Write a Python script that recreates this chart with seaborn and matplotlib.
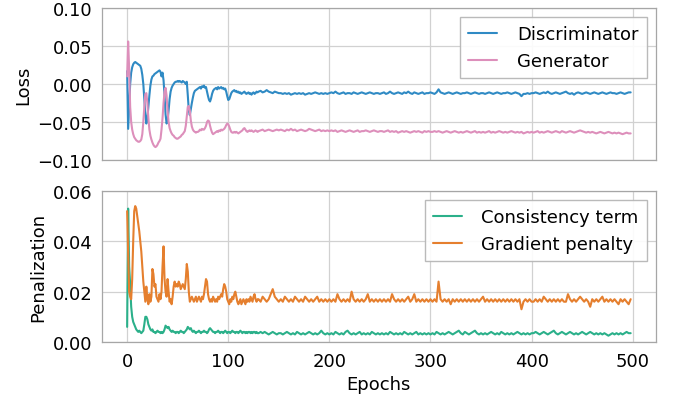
import numpy as np
import pandas as pd
import matplotlib
matplotlib.use("Agg")
import matplotlib.pyplot as plt
import seaborn as sns

# ---------------- data ----------------
epochs_head = list(range(0, 130))          # every epoch for 0..129
epochs_tail = list(range(130, 500, 2))     # every 2nd epoch for 130..498

disc_head = [0.017, -0.059, -0.030, 0.000, 0.015, 0.022, 0.026, 0.028, 0.029, 0.028,
             0.027, 0.026, 0.025, 0.024, 0.020, 0.012, 0.000, -0.020, -0.040, -0.052,
             -0.045, -0.030, -0.015, -0.002, 0.006, 0.010, 0.011, 0.013, 0.014, 0.015,
             0.016, 0.017, 0.018, 0.016, 0.010, 0.015, 0.005, -0.015, -0.040, -0.052,
             -0.048, -0.035, -0.020, -0.010, -0.005, -0.002, 0.000, 0.002, 0.003, 0.003,
             0.004, 0.003, 0.004, 0.003, 0.002, 0.004, 0.003, 0.002, 0.000, 0.003,
             -0.015, -0.035, -0.041, -0.033, -0.025, -0.018, -0.012, -0.009, -0.008, -0.007,
             -0.006, -0.005, -0.004, -0.006, -0.003, -0.004, -0.002, -0.005, -0.004, -0.010,
             -0.016, -0.021, -0.023, -0.019, -0.013, -0.009, -0.007, -0.006, -0.005, -0.007,
             -0.004, -0.006, -0.005, -0.004, -0.006, -0.005, -0.007, -0.006, -0.010, -0.016,
             -0.021, -0.020, -0.016, -0.012, -0.010, -0.009, -0.008, -0.010, -0.009, -0.011,
             -0.010, -0.012, -0.011, -0.013, -0.012, -0.011, -0.010, -0.012, -0.013, -0.012,
             -0.011, -0.013, -0.012, -0.014, -0.012, -0.011, -0.013, -0.012, -0.010, -0.011]
disc_tail = [-0.010, -0.009, -0.011, -0.010, -0.008, -0.010, -0.011, -0.012, -0.010, -0.011, -0.012,
             -0.012, -0.013, -0.012, -0.013, -0.012, -0.014, -0.013, -0.012, -0.013, -0.012,
             -0.013, -0.012, -0.014, -0.013, -0.012, -0.013, -0.012, -0.011, -0.012, -0.013,
             -0.012, -0.013, -0.012, -0.013, -0.012,
             -0.011, -0.012, -0.010, -0.012, -0.013, -0.012, -0.011, -0.013, -0.012, -0.012,
             -0.013, -0.011, -0.012, -0.013, -0.012, -0.011, -0.012, -0.013, -0.012, -0.011,
             -0.012, -0.013, -0.012, -0.012, -0.013,
             -0.012, -0.011, -0.013, -0.012, -0.010, -0.012, -0.013, -0.012, -0.011, -0.012,
             -0.013, -0.011, -0.012, -0.010, -0.012, -0.013, -0.011, -0.012, -0.013, -0.012,
             -0.011, -0.013, -0.012, -0.012, -0.011,
             -0.012, -0.013, -0.011, -0.007, -0.011, -0.012, -0.013, -0.012, -0.011, -0.012,
             -0.013, -0.012, -0.011, -0.012, -0.013, -0.012, -0.012, -0.011, -0.012, -0.013,
             -0.012, -0.011, -0.012, -0.013, -0.012,
             -0.012, -0.013, -0.012, -0.011, -0.012, -0.013, -0.012, -0.011, -0.012, -0.013,
             -0.012, -0.012, -0.011, -0.012, -0.013, -0.012, -0.011, -0.012, -0.013, -0.016,
             -0.013, -0.013, -0.012, -0.013, -0.012,
             -0.012, -0.011, -0.012, -0.013, -0.012, -0.011, -0.012, -0.010, -0.012, -0.013,
             -0.012, -0.011, -0.012, -0.013, -0.012, -0.011, -0.010, -0.012, -0.013, -0.012,
             -0.014, -0.012, -0.011, -0.012, -0.013,
             -0.012, -0.011, -0.012, -0.013, -0.012, -0.011, -0.012, -0.013, -0.012, -0.011,
             -0.012, -0.013, -0.012, -0.011, -0.012, -0.012, -0.013, -0.012, -0.011, -0.012,
             -0.013, -0.012, -0.011, -0.011]

gen_head = [0.010, 0.056, 0.020, -0.030, -0.050, -0.060, -0.066, -0.070, -0.072, -0.074,
            -0.075, -0.076, -0.076, -0.075, -0.073, -0.066, -0.050, -0.030, -0.013, -0.012,
            -0.025, -0.045, -0.060, -0.068, -0.073, -0.077, -0.080, -0.082, -0.083, -0.082,
            -0.080, -0.077, -0.075, -0.072, -0.060, -0.045, -0.025, -0.010, -0.005, -0.015,
            -0.035, -0.050, -0.058, -0.062, -0.065, -0.067, -0.068, -0.070, -0.071, -0.072,
            -0.072, -0.071, -0.070, -0.069, -0.067, -0.066, -0.064, -0.062, -0.055, -0.042,
            -0.030, -0.029, -0.035, -0.048, -0.056, -0.060, -0.062, -0.063, -0.064, -0.063,
            -0.063, -0.062, -0.060, -0.061, -0.059, -0.060, -0.060, -0.058, -0.055, -0.050,
            -0.048, -0.049, -0.055, -0.060, -0.064, -0.066, -0.065, -0.064, -0.063, -0.062,
            -0.063, -0.061, -0.062, -0.060, -0.061, -0.060, -0.059, -0.057, -0.054, -0.052,
            -0.053, -0.056, -0.060, -0.063, -0.064, -0.064, -0.063, -0.064, -0.063, -0.064,
            -0.065, -0.064, -0.063, -0.062, -0.061, -0.059, -0.058, -0.060, -0.062, -0.063,
            -0.062, -0.061, -0.062, -0.061, -0.062, -0.063, -0.062, -0.061, -0.062, -0.063]
gen_tail = [-0.062, -0.061, -0.060, -0.062, -0.061, -0.060, -0.061, -0.062, -0.061, -0.060, -0.061,
            -0.060, -0.061, -0.062, -0.060, -0.061, -0.059, -0.061, -0.060, -0.062, -0.061,
            -0.060, -0.061, -0.062, -0.061, -0.059, -0.060, -0.061, -0.062, -0.061, -0.060,
            -0.062, -0.061, -0.062, -0.061, -0.062,
            -0.061, -0.062, -0.061, -0.063, -0.062, -0.061, -0.062, -0.063, -0.062, -0.061,
            -0.062, -0.063, -0.062, -0.061, -0.063, -0.062, -0.062, -0.061, -0.062, -0.063,
            -0.062, -0.061, -0.062, -0.063, -0.062,
            -0.062, -0.063, -0.062, -0.061, -0.063, -0.062, -0.063, -0.062, -0.064, -0.063,
            -0.062, -0.063, -0.062, -0.063, -0.064, -0.063, -0.062, -0.063, -0.062, -0.063,
            -0.064, -0.062, -0.063, -0.062, -0.063,
            -0.063, -0.062, -0.063, -0.062, -0.063, -0.064, -0.063, -0.062, -0.063, -0.064,
            -0.063, -0.062, -0.063, -0.064, -0.063, -0.064, -0.063, -0.062, -0.063, -0.064,
            -0.063, -0.062, -0.064, -0.063, -0.064,
            -0.063, -0.064, -0.063, -0.062, -0.064, -0.063, -0.064, -0.063, -0.062, -0.063,
            -0.064, -0.063, -0.064, -0.063, -0.062, -0.063, -0.064, -0.063, -0.064, -0.063,
            -0.065, -0.064, -0.063, -0.064, -0.063,
            -0.064, -0.063, -0.062, -0.064, -0.063, -0.064, -0.063, -0.062, -0.063, -0.064,
            -0.063, -0.062, -0.063, -0.064, -0.062, -0.063, -0.064, -0.063, -0.062, -0.063,
            -0.064, -0.063, -0.062, -0.061, -0.062,
            -0.063, -0.064, -0.063, -0.064, -0.063, -0.064, -0.065, -0.064, -0.063, -0.064,
            -0.065, -0.064, -0.063, -0.064, -0.065, -0.064, -0.065, -0.064, -0.065, -0.066,
            -0.065, -0.064, -0.065, -0.065]

cons_head = [0.0060, 0.0530, 0.0300, 0.0230, 0.0140, 0.0100, 0.0080, 0.0070, 0.0060, 0.0050,
             0.0045, 0.0040, 0.0045, 0.0040, 0.0035, 0.0040, 0.0045, 0.0070, 0.0100, 0.0100,
             0.0090, 0.0070, 0.0060, 0.0050, 0.0045, 0.0050, 0.0040, 0.0040, 0.0035, 0.0040,
             0.0045, 0.0040, 0.0040, 0.0035, 0.0040, 0.0035, 0.0040, 0.0050, 0.0065, 0.0060,
             0.0055, 0.0060, 0.0050, 0.0045, 0.0040, 0.0045, 0.0040, 0.0040, 0.0035, 0.0040,
             0.0040, 0.0035, 0.0040, 0.0045, 0.0040, 0.0040, 0.0035, 0.0040, 0.0045, 0.0050,
             0.0060, 0.0055, 0.0050, 0.0055, 0.0045, 0.0040, 0.0045, 0.0040, 0.0035, 0.0040,
             0.0040, 0.0045, 0.0040, 0.0035, 0.0040, 0.0040, 0.0045, 0.0040, 0.0040, 0.0035,
             0.0040, 0.0050, 0.0055, 0.0050, 0.0045, 0.0040, 0.0040, 0.0035, 0.0040, 0.0040,
             0.0045, 0.0040, 0.0035, 0.0040, 0.0040, 0.0035, 0.0040, 0.0045, 0.0040, 0.0035,
             0.0040, 0.0040, 0.0035, 0.0040, 0.0045, 0.0040, 0.0040, 0.0035, 0.0040, 0.0040,
             0.0035, 0.0040, 0.0045, 0.0040, 0.0035, 0.0040, 0.0040, 0.0035, 0.0040, 0.0035,
             0.0040, 0.0040, 0.0035, 0.0040, 0.0035, 0.0040, 0.0040, 0.0035, 0.0040, 0.0035]
cons_tail = [0.0035, 0.0040, 0.0035, 0.0040, 0.0035, 0.0030, 0.0035, 0.0040, 0.0035, 0.0030, 0.0035,
             0.0035, 0.0030, 0.0035, 0.0040, 0.0035, 0.0030, 0.0035, 0.0030, 0.0040, 0.0035,
             0.0030, 0.0035, 0.0030, 0.0035, 0.0040, 0.0035, 0.0030, 0.0035, 0.0030, 0.0035,
             0.0045, 0.0035, 0.0030, 0.0035, 0.0030,
             0.0035, 0.0030, 0.0040, 0.0035, 0.0030, 0.0035, 0.0030, 0.0040, 0.0045, 0.0035,
             0.0030, 0.0035, 0.0030, 0.0035, 0.0040, 0.0030, 0.0035, 0.0030, 0.0035, 0.0030,
             0.0040, 0.0035, 0.0030, 0.0035, 0.0030,
             0.0035, 0.0030, 0.0035, 0.0030, 0.0040, 0.0035, 0.0030, 0.0035, 0.0030, 0.0035,
             0.0030, 0.0040, 0.0035, 0.0030, 0.0035, 0.0030, 0.0035, 0.0040, 0.0030, 0.0035,
             0.0030, 0.0035, 0.0030, 0.0035, 0.0030,
             0.0035, 0.0030, 0.0040, 0.0035, 0.0030, 0.0035, 0.0030, 0.0035, 0.0040, 0.0035,
             0.0030, 0.0035, 0.0040, 0.0045, 0.0035, 0.0030, 0.0040, 0.0035, 0.0030, 0.0035,
             0.0040, 0.0045, 0.0035, 0.0030, 0.0035,
             0.0030, 0.0035, 0.0030, 0.0035, 0.0040, 0.0035, 0.0030, 0.0035, 0.0030, 0.0040,
             0.0035, 0.0030, 0.0035, 0.0030, 0.0035, 0.0030, 0.0035, 0.0040, 0.0035, 0.0030,
             0.0035, 0.0030, 0.0035, 0.0030, 0.0035,
             0.0035, 0.0040, 0.0035, 0.0030, 0.0035, 0.0040, 0.0035, 0.0030, 0.0035, 0.0040,
             0.0045, 0.0035, 0.0030, 0.0035, 0.0040, 0.0035, 0.0030, 0.0035, 0.0040, 0.0035,
             0.0030, 0.0035, 0.0030, 0.0035, 0.0040,
             0.0035, 0.0030, 0.0035, 0.0040, 0.0035, 0.0030, 0.0035, 0.0030, 0.0035, 0.0030,
             0.0035, 0.0030, 0.0025, 0.0030, 0.0035, 0.0030, 0.0035, 0.0030, 0.0035, 0.0030,
             0.0035, 0.0040, 0.0035, 0.0035]

grad_head = [0.052, 0.035, 0.020, 0.018, 0.017, 0.025, 0.040, 0.052, 0.054, 0.053,
             0.050, 0.047, 0.044, 0.040, 0.036, 0.030, 0.024, 0.020, 0.016, 0.022,
             0.017, 0.015, 0.019, 0.016, 0.018, 0.029, 0.027, 0.022, 0.023, 0.018,
             0.017, 0.016, 0.019, 0.017, 0.020, 0.030, 0.038, 0.025, 0.020, 0.018,
             0.025, 0.020, 0.016, 0.017, 0.015, 0.018, 0.022, 0.024, 0.022, 0.023,
             0.022, 0.024, 0.023, 0.021, 0.022, 0.023, 0.022, 0.021, 0.025, 0.031,
             0.028, 0.020, 0.016, 0.017, 0.018, 0.017, 0.016, 0.017, 0.018, 0.016,
             0.017, 0.018, 0.017, 0.016, 0.018, 0.017, 0.019, 0.022, 0.025, 0.024,
             0.019, 0.017, 0.016, 0.017, 0.016, 0.018, 0.017, 0.016, 0.017, 0.016,
             0.018, 0.017, 0.018, 0.019, 0.018, 0.021, 0.023, 0.022, 0.020, 0.017,
             0.016, 0.015, 0.017, 0.016, 0.018, 0.017, 0.019, 0.020, 0.018, 0.016,
             0.015, 0.016, 0.017, 0.015, 0.016, 0.017, 0.016, 0.015, 0.017, 0.016,
             0.017, 0.016, 0.018, 0.017, 0.016, 0.018, 0.019, 0.017, 0.016, 0.017]
grad_tail = [0.017, 0.016, 0.018, 0.017, 0.016, 0.017, 0.019, 0.021, 0.018, 0.017, 0.016,
             0.017, 0.016, 0.018, 0.017, 0.016, 0.017, 0.016, 0.018, 0.017, 0.016,
             0.017, 0.016, 0.018, 0.017, 0.016, 0.017, 0.016, 0.017, 0.018, 0.016,
             0.017, 0.016, 0.017, 0.016, 0.017,
             0.016, 0.017, 0.016, 0.019, 0.017, 0.016, 0.017, 0.016, 0.017, 0.016,
             0.020, 0.017, 0.016, 0.017, 0.016, 0.017, 0.016, 0.017, 0.019, 0.016,
             0.017, 0.016, 0.017, 0.016, 0.017,
             0.016, 0.017, 0.016, 0.017, 0.016, 0.019, 0.017, 0.016, 0.017, 0.016,
             0.017, 0.016, 0.017, 0.018, 0.016, 0.017, 0.019, 0.016, 0.017, 0.016,
             0.017, 0.016, 0.017, 0.016, 0.017,
             0.016, 0.017, 0.016, 0.024, 0.017, 0.016, 0.017, 0.016, 0.017, 0.015,
             0.017, 0.016, 0.017, 0.016, 0.017, 0.016, 0.017, 0.016, 0.017, 0.016,
             0.017, 0.016, 0.017, 0.016, 0.017,
             0.018, 0.016, 0.017, 0.016, 0.017, 0.016, 0.017, 0.016, 0.017, 0.016,
             0.017, 0.016, 0.017, 0.016, 0.017, 0.016, 0.017, 0.016, 0.017, 0.013,
             0.016, 0.017, 0.016, 0.017, 0.016,
             0.016, 0.017, 0.016, 0.017, 0.016, 0.018, 0.017, 0.016, 0.017, 0.016,
             0.017, 0.016, 0.017, 0.016, 0.017, 0.016, 0.016, 0.019, 0.017, 0.016,
             0.017, 0.016, 0.017, 0.018, 0.017,
             0.016, 0.017, 0.016, 0.014, 0.017, 0.016, 0.017, 0.016, 0.017, 0.018,
             0.016, 0.017, 0.016, 0.017, 0.016, 0.017, 0.016, 0.015, 0.017, 0.016,
             0.017, 0.016, 0.015, 0.017]

loss_names = ["Discriminator", "Generator"]
pen_names = ["Consistency term", "Gradient penalty"]
colors = {"Discriminator": "#2f8ac4", "Generator": "#dd8fbb",
          "Consistency term": "#2bb08a", "Gradient penalty": "#e57f2e"}


def frame(name, head, tail):
    x = epochs_head + epochs_tail
    y = list(head) + list(tail)
    n = min(len(x), len(y))
    return pd.DataFrame({"Epochs": x[:n], "value": y[:n], "series": name})


loss_df = pd.concat([frame("Discriminator", disc_head, disc_tail),
                     frame("Generator", gen_head, gen_tail)], ignore_index=True)
pen_df = pd.concat([frame("Consistency term", cons_head, cons_tail),
                    frame("Gradient penalty", grad_head, grad_tail)], ignore_index=True)

# ---------------- plot ----------------
sns.set_theme(style="whitegrid")
plt.rcParams["font.family"] = ["DejaVu Sans"]
plt.rcParams["text.color"] = "black"
plt.rcParams["axes.labelcolor"] = "black"

fig = plt.figure(figsize=(6.73, 4.02), dpi=100)
ax1 = fig.add_axes([0.1515, 0.5995, 0.823, 0.378])
ax2 = fig.add_axes([0.1515, 0.1468, 0.823, 0.3756], sharex=ax1)

sns.lineplot(data=loss_df, x="Epochs", y="value", hue="series", hue_order=loss_names,
             palette=colors, linewidth=1.5, ax=ax1)
sns.lineplot(data=pen_df, x="Epochs", y="value", hue="series", hue_order=pen_names,
             palette=colors, linewidth=1.5, ax=ax2)

ax1.set_ylim(-0.10, 0.10)
ax1.set_yticks([-0.10, -0.05, 0.00, 0.05, 0.10])
ax1.set_yticklabels(["\u22120.10", "\u22120.05", "0.00", "0.05", "0.10"])
ax2.set_ylim(0.0, 0.06)
ax2.set_yticks([0.00, 0.02, 0.04, 0.06])
ax2.set_yticklabels(["0.00", "0.02", "0.04", "0.06"])
ax2.set_xticks([0, 100, 200, 300, 400, 500])

ax1.set_ylabel("Loss", fontsize=13)
ax1.set_xlabel("")
ax2.set_ylabel("Penalization", fontsize=13)
ax2.set_xlabel("Epochs", fontsize=13)
plt.setp(ax1.get_xticklabels(), visible=False)

for ax in (ax1, ax2):
    ax.tick_params(axis="both", labelsize=13, length=4, width=0.8, color="0.6",
                   labelcolor="black", pad=3)
    ax.grid(True, color="0.82", linewidth=0.9)
    for s in ax.spines.values():
        s.set_color("0.65")
        s.set_linewidth(0.9)
    leg = ax.legend(loc="upper right", fontsize=13, frameon=True, framealpha=0.9,
                    edgecolor="0.7", fancybox=False, handlelength=1.6, handletextpad=1.1,
                    borderpad=0.45, labelspacing=0.5, title=None)
    for t in leg.get_texts():
        t.set_color("black")

fig.savefig("out.png", dpi=100)
